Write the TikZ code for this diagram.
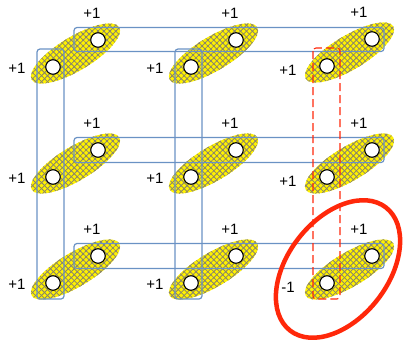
\documentclass[tikz,border=0pt]{standalone}
\usepackage{fontspec}
\setmainfont{Liberation Sans}
\usetikzlibrary{shapes.geometric,patterns.meta,calc}

\definecolor{bondblue}{RGB}{106,146,196}
\definecolor{flipred}{RGB}{255,40,10}
\definecolor{meshgray}{RGB}{135,130,110}

\tikzset{
  dimer/.style={ellipse, minimum width=102pt, minimum height=34pt, inner sep=0pt, rotate=31,
    fill=yellow,
    postaction={pattern={Lines[angle=45,distance=4.2pt,line width=0.8pt]}, pattern color=meshgray},
    postaction={pattern={Lines[angle=-45,distance=4.2pt,line width=0.8pt]}, pattern color=meshgray}},
  site/.style={circle, draw=black, line width=1.1pt, fill=white, minimum size=14.5pt, inner sep=0pt},
  bond/.style={draw=bondblue, line width=1.2pt, rounded corners=3pt},
  flipbox/.style={draw=flipred, dash pattern=on 8pt off 4pt, line width=1.1pt, rounded corners=3pt},
  spin/.style={font=\fontsize{15}{17}\selectfont, inner sep=0pt},
}

\begin{document}
\begin{tikzpicture}[x=1pt, y=-1pt]
  \useasboundingbox (0,0) rectangle (404,343);

  % Dimers: lower and upper site of each cell
  \foreach \c/\r/\x/\y in {1/1/53/67, 2/1/191/67, 3/1/327/66,
                           1/2/53/177, 2/2/191/177, 3/2/327/177,
                           1/3/53/283, 2/3/191/283, 3/3/327/283} {
    \coordinate (lo\c\r) at (\x,\y);
    \coordinate (up\c\r) at ({\x+45},{\y-27});
    \node[dimer] (d\c\r) at ({\x+22.5},{\y-13.5}) {};
  }

  % Horizontal bonds through the upper sites
  \foreach \r in {1,2,3}
    \draw[bond] ($(up1\r)+(-24,-12.5)$) rectangle ($(up3\r)+(12,12.5)$);

  % Vertical bonds through the lower sites
  \foreach \c in {1,2}
    \draw[bond] ($(lo\c1)+(-16,-18)$) rectangle ($(lo\c3)+(11,16)$);
  \draw[flipbox] ($(lo31)+(-14,-18)$) rectangle ($(lo33)+(13,16)$); % flipped column

  % Sites and their spins
  \foreach \c/\r/\s in {1/1/+1, 2/1/+1, 3/1/+1, 1/2/+1, 2/2/+1, 3/2/+1, 1/3/+1, 2/3/+1, 3/3/-1} {
    \pgfmathsetmacro\lx{\c==3 ? -39 : -36}
    \pgfmathsetmacro\ly{\c==3 ? 4 : 1}
    \pgfmathsetmacro\ux{\c==3 ? -13 : -6}
    \node[site] (sl\c\r) at (lo\c\r) {};
    \node[site] (su\c\r) at (up\c\r) {};
    \node[spin] (tl\c\r) at ($(lo\c\r)+(\lx,\ly)$) {\s};
    \node[spin] (tu\c\r) at ($(up\c\r)+(\ux,-27)$) {+1};
  }

  % Highlighted defect
  \node[draw=flipred, ellipse, line width=4.5pt, minimum width=156pt, minimum height=100pt,
        rotate=52] (ring) at (338,269) {};
\end{tikzpicture}
\end{document}
